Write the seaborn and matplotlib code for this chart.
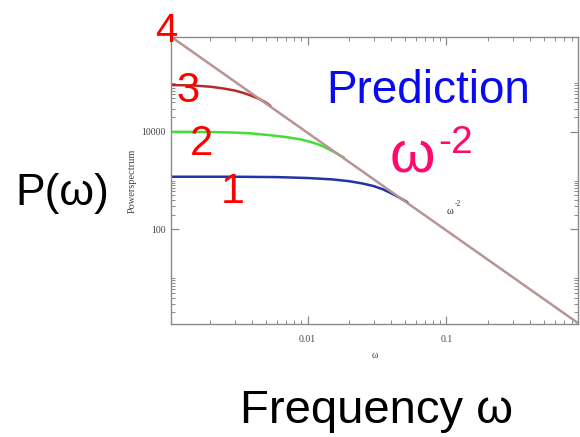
import pandas as pd
import seaborn as sns
import matplotlib.pyplot as plt
from matplotlib.ticker import FixedLocator, FuncFormatter, NullFormatter

# curves (omega, power)
omega_1 = [0.00104, 0.003, 0.006, 0.010, 0.015, 0.020, 0.025, 0.030, 0.035,
           0.040, 0.045, 0.0524]
power_1 = [1200, 1200, 1180, 1130, 1060, 970, 870, 770, 660, 550, 460, 360]
omega_2 = [0.00104, 0.002, 0.003, 0.0039, 0.0054, 0.007, 0.0089, 0.0105,
           0.0118, 0.0135, 0.0154, 0.0168, 0.0182]
power_2 = [10000, 9900, 9650, 9300, 8500, 7800, 7000, 6200, 5600, 4750, 3900,
           3400, 3000]
omega_3 = [0.00104, 0.0015, 0.002, 0.0025, 0.003, 0.0035, 0.004, 0.0045,
           0.005, 0.0054]
power_3 = [91000, 89000, 84000, 77000, 70000, 62000, 54000, 47000, 40000, 34000]
omega_4 = [0.00104, 0.885]
power_4 = [890000, 1.2]

curve_names = ["1", "2", "3", "4"]
curve_colors = ["#2233aa", "#44dd33", "#b52a25", "#b89494"]

frames = []
for name, om, pw in zip(curve_names, [omega_1, omega_2, omega_3, omega_4],
                        [power_1, power_2, power_3, power_4]):
    frames.append(pd.DataFrame({"omega": om, "power": pw, "curve": name}))
df = pd.concat(frames, ignore_index=True)

sns.set_theme(style="ticks")
plt.rcParams["font.family"] = ["Liberation Sans", "DejaVu Sans"]

W, H = 580, 437
fig = plt.figure(figsize=(W / 100, H / 100), dpi=100)


def fx(x):
    return x / W


def fy(y):
    return 1 - y / H


ax = fig.add_axes([fx(171), fy(324), fx(578) - fx(171), fy(36.7) - fy(324)])

sns.lineplot(data=df, x="omega", y="power", hue="curve",
             palette=dict(zip(curve_names, curve_colors)),
             hue_order=curve_names, sort=False, estimator=None,
             legend=False, linewidth=1.8, ax=ax)

ax.set_xscale("log")
ax.set_yscale("log")
ax.set_xlim(0.00104, 0.885)
ax.set_ylim(1.15, 890000)

gray = "#8a8a8a"
for s in ax.spines.values():
    s.set_color(gray)
    s.set_linewidth(1.0)

x_major = [0.001, 0.01, 0.1, 1]
x_minor = [m * 10.0 ** k for k in range(-3, 0) for m in range(2, 10)]
y_major = [1, 100, 10000, 1000000]
y_minor = [m * 10.0 ** k for k in (0, 2, 4) for m in range(2, 11)]

ax.xaxis.set_major_locator(FixedLocator(x_major))
ax.xaxis.set_minor_locator(FixedLocator(x_minor))
ax.yaxis.set_major_locator(FixedLocator(y_major))
ax.yaxis.set_minor_locator(FixedLocator(y_minor))
ax.xaxis.set_major_formatter(FuncFormatter(lambda v, p: f"{v:g}"))
ax.yaxis.set_major_formatter(FuncFormatter(lambda v, p: f"{v:.0f}"))
ax.xaxis.set_minor_formatter(NullFormatter())
ax.yaxis.set_minor_formatter(NullFormatter())
ax.tick_params(which="both", direction="in", top=True, right=True,
               color=gray, labelcolor="#444444", labelsize=7)
ax.tick_params(axis="x", pad=8)
ax.tick_params(axis="y", pad=4)
ax.tick_params(which="major", length=6, width=0.9)
ax.tick_params(which="minor", length=3, width=0.7)
for lab in ax.get_xticklabels() + ax.get_yticklabels():
    lab.set_family("Liberation Serif")

ax.set_xlabel("ω", family="Liberation Serif", fontsize=7, color="#444444", labelpad=5)
ax.set_ylabel("Powerspectrum", family="Liberation Serif", fontsize=7.5,
              color="#444444", labelpad=3)

fig.text(fx(447), fy(214), "ω", family="Liberation Serif", fontsize=7.5,
         color="#333333", ha="left", va="baseline")
fig.text(fx(455), fy(206), "-2", family="Liberation Serif", fontsize=5.5,
         color="#333333", ha="left", va="baseline")

red = "#ff0000"
fig.text(fx(166), fy(42), "4", color=red, fontsize=29, ha="center", va="baseline")
fig.text(fx(188), fy(102), "3", color=red, fontsize=30, ha="center", va="baseline")
fig.text(fx(202), fy(155), "2", color=red, fontsize=30, ha="center", va="baseline")
fig.text(fx(233), fy(203), "1", color=red, fontsize=31, ha="center", va="baseline")

fig.text(fx(428), fy(103), "Prediction", color="#0a0aee", fontsize=33,
         ha="center", va="baseline")
pink = "#ff0a6c"
fig.text(fx(412), fy(172), "ω", color=pink, fontsize=42, ha="center", va="baseline")
fig.text(fx(438), fy(153), "-2", color=pink, fontsize=28, ha="left", va="baseline")

fig.text(fx(15), fy(205), "P(ω)", color="black", fontsize=32, ha="left", va="baseline")
fig.text(fx(377), fy(423), "Frequency ω", color="black", fontsize=34,
         ha="center", va="baseline")

fig.savefig("out.png", dpi=100)
